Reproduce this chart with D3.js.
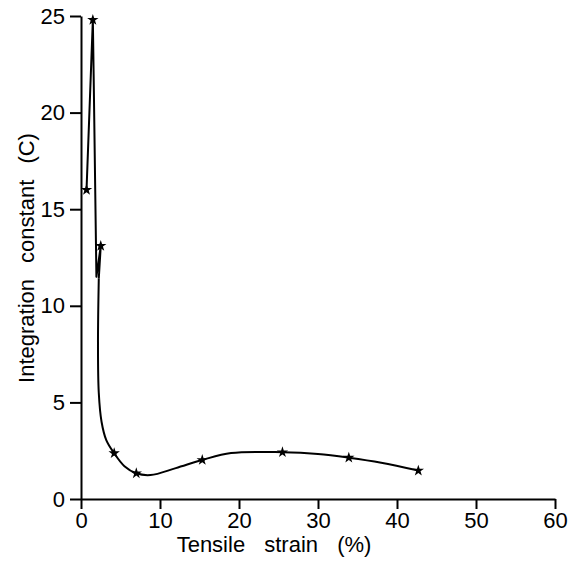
<!DOCTYPE html>
<html>
<head>
<meta charset="utf-8">
<script src="https://cdn.jsdelivr.net/npm/d3@7"></script>
<style>
  body { margin: 0; background: #fff; }
  text { font-family: "Liberation Sans", Arial, sans-serif; fill: #000; }
</style>
</head>
<body>
<div id="chart"></div>
<script>
var strain = [0.7, 1.5, 2.5, 4.2, 7.0, 15.35, 25.5, 33.9, 42.7];
var constC = [16.0, 24.8, 13.1, 2.37, 1.33, 2.02, 2.42, 2.14, 1.47];

// The hand drawn curve: a sharp spike first, then a smooth tail
var spikeX = [0.7, 1.5, 1.6, 1.95, 2.5, 2.25];
var spikeY = [16.0, 24.8, 22.0, 11.5, 13.1, 11.4];
var tailX = [2.25, 2.15, 2.25, 2.6, 3.2, 4.2, 5.5, 7.0, 8.8, 12.0, 15.35, 19.0, 25.5, 30.0, 33.9, 38.0, 42.7];
var tailY = [11.4, 8.0, 5.5, 4.0, 3.05, 2.37, 1.7, 1.33, 1.24, 1.6, 2.02, 2.38, 2.42, 2.33, 2.14, 1.88, 1.47];

var xTicks = [0, 10, 20, 30, 40, 50, 60];
var yTicks = [0, 5, 10, 15, 20, 25];

var width = 569, height = 561;
var margin = {left: 81, right: 14, top: 16, bottom: 62};

var svg = d3.select("#chart").append("svg")
    .attr("width", width)
    .attr("height", height);

var x = d3.scaleLinear().domain([0, 60]).range([margin.left, width - margin.right]);
var y = d3.scaleLinear().domain([0, 25]).range([height - margin.bottom, margin.top]);

// Axes
var xAxis = svg.append("g")
    .attr("transform", "translate(0," + y(0) + ")")
    .call(d3.axisBottom(x).tickValues(xTicks).tickSize(10).tickSizeOuter(0).tickPadding(3));
var yAxis = svg.append("g")
    .attr("transform", "translate(" + x(0) + ",0)")
    .call(d3.axisLeft(y).tickValues(yTicks).tickSize(11).tickSizeOuter(0).tickPadding(5));

[xAxis, yAxis].forEach(function(a){
    a.selectAll("path, line").attr("stroke", "#000").attr("stroke-width", 2);
    a.selectAll("text")
	.style("font-family", "'Liberation Sans', Arial, sans-serif")
	.style("font-size", "22px")
	.attr("fill", "#000");
});

// Axis titles
svg.append("text")
    .attr("x", 274)
    .attr("y", 552)
    .attr("text-anchor", "middle")
    .style("font-size", "22px")
    .style("word-spacing", "13px")
    .text("Tensile strain (%)");

svg.append("text")
    .attr("transform", "translate(34," + 258 + ") rotate(-90)")
    .attr("text-anchor", "middle")
    .style("font-size", "22px")
    .style("word-spacing", "10px")
    .text("Integration constant (C)");

// The curve
var spike = d3.line()
    .x(function(d, i){ return x(spikeX[i]); })
    .y(function(d, i){ return y(spikeY[i]); });
var tail = d3.line()
    .x(function(d, i){ return x(tailX[i]); })
    .y(function(d, i){ return y(tailY[i]); })
    .curve(d3.curveCatmullRom.alpha(0.5));

svg.append("path")
    .attr("d", spike(spikeX))
    .attr("fill", "none")
    .attr("stroke", "#000")
    .attr("stroke-width", 2)
    .attr("stroke-linejoin", "round");
svg.append("path")
    .attr("d", tail(tailX))
    .attr("fill", "none")
    .attr("stroke", "#000")
    .attr("stroke-width", 2);

// Star markers
svg.selectAll("path.star")
    .data(strain)
    .enter().append("path")
    .attr("class", "star")
    .attr("d", d3.symbol().type(d3.symbolStar).size(40))
    .attr("transform", function(d, i){ return "translate(" + x(d) + "," + y(constC[i]) + ")"; })
    .attr("fill", "#000");
</script>
</body>
</html>
